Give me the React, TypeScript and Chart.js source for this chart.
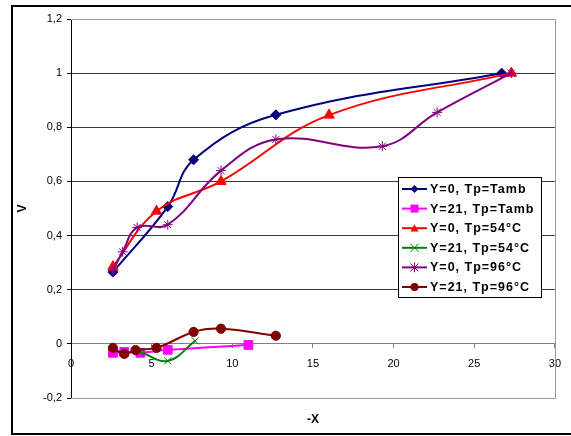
import React, { useEffect, useRef } from "react";
import { Chart, registerables } from "chart.js";

Chart.register(...registerables);

// ---- data ----
const xTambY0 = [2.6, 6.0, 7.6, 12.7, 26.7];
const vTambY0 = [0.265, 0.507, 0.68, 0.846, 1.0];
const xTambY21 = [2.6, 3.3, 4.3, 6.0, 11.0];
const vTambY21 = [-0.033, -0.03, -0.033, -0.022, -0.004];
const x54Y0 = [2.6, 5.3, 9.3, 16.0, 27.3];
const v54Y0 = [0.285, 0.49, 0.6, 0.845, 1.0];
const x54Y21 = [4.3, 6.0, 7.7];
const v54Y21 = [-0.03, -0.063, 0.011];
const x96Y0 = [2.6, 3.2, 4.1, 6.0, 9.3, 12.7, 19.3, 22.7, 27.3];
const v96Y0 = [0.27, 0.34, 0.43, 0.44, 0.64, 0.755, 0.73, 0.855, 1.0];
const x96Y21 = [2.6, 3.3, 4.0, 5.3, 7.6, 9.3, 12.7];
const v96Y21 = [-0.015, -0.037, -0.023, -0.015, 0.044, 0.056, 0.03];

const seriesLabels = [
  "Y=0, Tp=Tamb",
  "Y=21, Tp=Tamb",
  "Y=0, Tp=54°C",
  "Y=21, Tp=54°C",
  "Y=0, Tp=96°C",
  "Y=21, Tp=96°C",
];
const seriesX = [xTambY0, xTambY21, x54Y0, x54Y21, x96Y0, x96Y21];
const seriesV = [vTambY0, vTambY21, v54Y0, v54Y21, v96Y0, v96Y21];
const seriesColors = ["#000080", "#FF00FF", "#FF0000", "#008000", "#800080", "#800000"];
const seriesStyles = ["rectRot", "rect", "triangle", "crossRot", "star", "circle"];
const seriesRadius = [5, 6.2, 6, 5, 5, 4.6];

const xTitle = "-X";
const yTitle = "V";
const xMin = 0, xMax = 30, xStep = 5;
const yMin = -0.2, yMax = 1.2, yStep = 0.2;

const FONT = "'Liberation Sans', Arial, sans-serif";

function drawMarker(ctx: CanvasRenderingContext2D, style: string, x: number, y: number, r: number, color: string) {
  ctx.save();
  ctx.fillStyle = color;
  ctx.strokeStyle = color;
  ctx.lineWidth = 1;
  ctx.beginPath();
  if (style === "rectRot") {
    ctx.moveTo(x, y - r); ctx.lineTo(x + r, y); ctx.lineTo(x, y + r); ctx.lineTo(x - r, y); ctx.closePath();
    ctx.fill();
  } else if (style === "rect") {
    ctx.rect(x - r, y - r, 2 * r, 2 * r); ctx.fill();
  } else if (style === "triangle") {
    ctx.moveTo(x, y - r); ctx.lineTo(x + r, y + r * 0.8); ctx.lineTo(x - r, y + r * 0.8); ctx.closePath(); ctx.fill();
  } else if (style === "crossRot") {
    ctx.moveTo(x - r, y - r); ctx.lineTo(x + r, y + r); ctx.moveTo(x + r, y - r); ctx.lineTo(x - r, y + r); ctx.stroke();
  } else if (style === "star") {
    ctx.moveTo(x - r, y - r); ctx.lineTo(x + r, y + r); ctx.moveTo(x + r, y - r); ctx.lineTo(x - r, y + r);
    ctx.moveTo(x, y - r * 1.2); ctx.lineTo(x, y + r * 1.2); ctx.stroke();
  } else {
    ctx.arc(x, y, r, 0, Math.PI * 2); ctx.fill();
  }
  ctx.restore();
}

const decorPlugin = {
  id: "decor",
  beforeDraw(chart: any) {
    const { ctx, width, height } = chart;
    ctx.save();
    ctx.fillStyle = "#ffffff";
    ctx.fillRect(0, 0, width, height);
    ctx.restore();
  },
  afterDraw(chart: any) {
    const { ctx, chartArea } = chart;
    ctx.save();
    // outer chart border
    ctx.strokeStyle = "#000";
    ctx.lineWidth = 2;
    ctx.strokeRect(12, 6, 600, 428);
    // plot area border (top, right, bottom: gray)
    ctx.strokeStyle = "#9a9a9a";
    ctx.lineWidth = 1;
    ctx.beginPath();
    ctx.moveTo(chartArea.left, Math.round(chartArea.top) + 0.5);
    ctx.lineTo(Math.round(chartArea.right) + 0.5, Math.round(chartArea.top) + 0.5);
    ctx.lineTo(Math.round(chartArea.right) + 0.5, Math.round(chartArea.bottom) + 0.5);
    ctx.lineTo(chartArea.left, Math.round(chartArea.bottom) + 0.5);
    ctx.stroke();

    // axis titles
    ctx.fillStyle = "#000";
    ctx.font = `bold 12px ${FONT}`;
    ctx.textAlign = "center";
    ctx.textBaseline = "middle";
    ctx.fillText(xTitle, (chartArea.left + chartArea.right) / 2, 420);
    ctx.save();
    ctx.translate(23, (chartArea.top + chartArea.bottom) / 2);
    ctx.rotate(-Math.PI / 2);
    ctx.fillText(yTitle, 0, 0);
    ctx.restore();

    // legend
    const lx = 398, ly = 177, lw = 143, lh = 120;
    ctx.fillStyle = "#fff";
    ctx.fillRect(lx, ly, lw, lh);
    ctx.strokeStyle = "#000";
    ctx.lineWidth = 1;
    ctx.strokeRect(lx + 0.5, ly + 0.5, lw, lh);
    ctx.font = `bold 12.5px ${FONT}`;
    (ctx as any).letterSpacing = "1px";
    ctx.textAlign = "left";
    ctx.textBaseline = "middle";
    seriesLabels.forEach((lab, i) => {
      const cy = ly + 12 + i * 19.6;
      ctx.strokeStyle = seriesColors[i];
      ctx.lineWidth = 2;
      ctx.beginPath();
      ctx.moveTo(lx + 4, cy);
      ctx.lineTo(lx + 29, cy);
      ctx.stroke();
      drawMarker(ctx, seriesStyles[i], lx + 16.5, cy, 4, seriesColors[i]);
      ctx.fillStyle = "#000";
      ctx.fillText(lab, lx + 32, cy + 0.5);
    });
    (ctx as any).letterSpacing = "0px";
    ctx.restore();
  },
};

export default function App() {
  const ref = useRef<HTMLCanvasElement | null>(null);
  useEffect(() => {
    document.body.style.margin = "0";
    const canvas = ref.current!;
    const datasets = seriesLabels.map((label, i) => ({
      label,
      data: seriesX[i].map((x, j) => ({ x, y: seriesV[i][j] })),
      borderColor: seriesColors[i],
      backgroundColor: seriesColors[i],
      pointBackgroundColor: seriesColors[i],
      pointBorderColor: seriesColors[i],
      pointStyle: seriesStyles[i],
      pointRadius: seriesRadius[i],
      pointBorderWidth: 1,
      borderWidth: 2,
      showLine: true,
      tension: 0.4,
      order: 5 - i,
      clip: false as any,
    }));
    const chart = new Chart(canvas, {
      type: "scatter",
      data: { datasets },
      plugins: [decorPlugin],
      options: {
        responsive: false,
        animation: false,
        devicePixelRatio: 1,
        layout: { padding: { left: 0, right: 16, top: 19, bottom: 38 } },
        plugins: { legend: { display: false }, tooltip: { enabled: false } },
        scales: {
          x: {
            type: "linear",
            position: { y: 0 } as any,
            min: xMin,
            max: xMax,
            ticks: {
              stepSize: xStep,
              color: "#000",
              font: { family: FONT, size: 11 },
              padding: 10,
              maxRotation: 0,
            },
            grid: { drawOnChartArea: false, drawTicks: true, tickLength: 4, color: "#808080" },
            border: { color: "#808080" },
          },
          y: {
            type: "linear",
            min: yMin,
            max: yMax,
            afterFit: (s: any) => { s.width = 71; },
            ticks: {
              stepSize: yStep,
              color: "#000",
              font: { family: FONT, size: 11 },
              padding: 5,
              callback: (v: any) => String(Math.round(Number(v) * 10) / 10).replace(".", ","),
            },
            grid: {
              color: (c: any) => {
                const v = c.tick ? Math.round(c.tick.value * 10) / 10 : 1;
                if (v === 0) return "#808080";
                if (v === 1.2 || v === -0.2) return "#9a9a9a";
                return "#3a3a3a";
              },
              tickColor: "#000",
              tickLength: 4,
            },
            border: { color: "#000", width: 1 },
          },
        },
      },
    });
    return () => chart.destroy();
  }, []);
  return <canvas ref={ref} width={571} height={436} style={{ display: "block" }} />;
}
